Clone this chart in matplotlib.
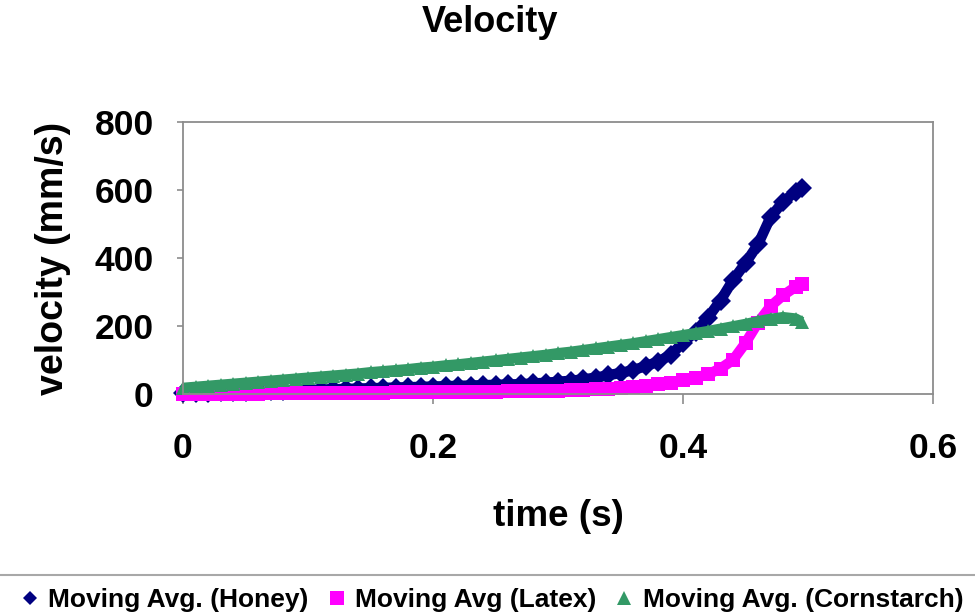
import matplotlib
matplotlib.use("Agg")
import matplotlib.pyplot as plt
from matplotlib.lines import Line2D

# =============================================================================
# Velocity vs time, three fluids (moving averages)
# =============================================================================

time_s = [0.00, 0.01, 0.02, 0.03, 0.04, 0.05, 0.06, 0.07, 0.08, 0.09,
          0.10, 0.11, 0.12, 0.13, 0.14, 0.15, 0.16, 0.17, 0.18, 0.19,
          0.20, 0.21, 0.22, 0.23, 0.24, 0.25, 0.26, 0.27, 0.28, 0.29,
          0.30, 0.31, 0.32, 0.33, 0.34, 0.35, 0.36, 0.37, 0.38, 0.39,
          0.40, 0.41, 0.42, 0.43, 0.44, 0.45, 0.46, 0.47, 0.48, 0.49, 0.495]

honey = [2, 3, 4, 5, 6, 7, 8, 9, 10, 11,
         12, 13, 14, 15, 16, 17, 18, 19, 20, 21,
         22, 23, 24, 25, 26, 27, 28, 29, 31, 33,
         36, 39, 43, 48, 55, 62, 70, 82, 95, 115,
         150, 183, 225, 275, 335, 385, 440, 520, 565, 595, 605]

latex = [0, 0, 1, 1, 1, 1, 1, 2, 2, 2,
         3, 3, 3, 3, 4, 4, 4, 5, 5, 5,
         6, 6, 6, 7, 7, 7, 8, 8, 9, 9,
         10, 11, 12, 14, 16, 18, 20, 24, 28, 33,
         40, 48, 58, 75, 100, 150, 210, 258, 290, 315, 325]

cornstarch = [18, 21, 24, 27, 30, 33, 36, 39, 42, 45,
              48, 51, 54, 57, 60, 64, 67, 70, 73, 77,
              80, 84, 87, 91, 95, 99, 103, 107, 111, 115,
              120, 124, 129, 134, 139, 144, 149, 155, 161, 167,
              173, 179, 185, 192, 199, 206, 214, 221, 226, 222, 212]

series_labels = ["Moving Avg. (Honey)", "Moving Avg (Latex)", "Moving Avg. (Cornstarch)"]
series_colors = ["#000080", "#FF00FF", "#339966"]
series_markers = ["D", "s", "^"]

x_ticks = [0, 0.2, 0.4, 0.6]
x_tick_labels = ["0", "0.2", "0.4", "0.6"]
y_ticks = [0, 200, 400, 600, 800]

plt.rcParams["font.family"] = ["Liberation Sans", "DejaVu Sans"]
plt.rcParams["font.weight"] = "bold"

W, H = 975, 614
fig = plt.figure(figsize=(W / 100, H / 100), dpi=100)

# plot area in pixels: left 183, right 933, top 122, bottom 394
ax = fig.add_axes([183 / W, 1 - 394 / H, 750 / W, 272 / H])

for vals, col, mk, lab in zip([honey, latex, cornstarch], series_colors,
                              series_markers, series_labels):
    ax.plot(time_s, vals, color=col, lw=7.5, marker=mk, ms=10,
            markeredgewidth=0, solid_capstyle="butt", label=lab,
            clip_on=False)

ax.set_xlim(0, 0.6)
ax.set_ylim(0, 800)
ax.set_xticks(x_ticks)
ax.set_xticklabels(x_tick_labels)
ax.set_yticks(y_ticks)

for s in ax.spines.values():
    s.set_color("#8c8c8c")
    s.set_linewidth(1.3)

ax.tick_params(axis="x", direction="out", length=7, width=1.2, color="#8c8c8c",
               pad=20, labelsize=25.5)
ax.tick_params(axis="y", direction="out", length=4, width=1.2, color="#8c8c8c",
               pad=17, labelsize=25.5)

ax.set_xlabel("time (s)", fontsize=26.5, fontweight="bold", va="center")
ax.xaxis.set_label_coords(0.5, -(517 - 394) / 272)
ax.set_ylabel("velocity (mm/s)", fontsize=27, fontweight="bold", va="center")
ax.yaxis.set_label_coords(-(183 - 53) / 750, 0.5)

fig.text(490 / W, 1 - 22 / H, "Velocity", fontsize=26, fontweight="bold",
         ha="center", va="center")

# legend strip at the bottom with a grey rule above it
fig.add_artist(Line2D([0, 1], [1 - 575 / H, 1 - 575 / H], transform=fig.transFigure,
                      color="#a8a8a8", lw=1.5))

handles = [Line2D([], [], color=c, marker=m, ls="none", ms=10, markeredgewidth=0)
           for c, m in zip(series_colors, series_markers)]
handles[0].set_markersize(7)
fig.legend(handles, series_labels, loc="center", bbox_to_anchor=(492 / W, 1 - 600 / H),
           ncol=3, frameon=False, prop={"size": 19, "weight": "bold"},
           handlelength=0.7, handletextpad=0.35, columnspacing=0.7,
           borderaxespad=0, borderpad=0)

fig.savefig("out.png", dpi=100)
